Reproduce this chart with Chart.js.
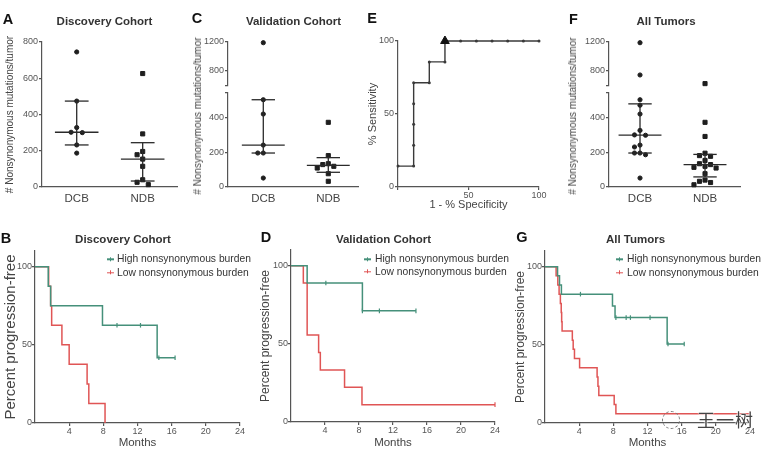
<!DOCTYPE html>
<html>
<head>
<meta charset="utf-8">
<title>Nonsynonymous mutation burden and clinical benefit</title>
<script src="https://cdn.jsdelivr.net/npm/chart.js@4.4.1/dist/chart.umd.min.js"></script>
<style>
html,body{margin:0;padding:0;background:#fff;}
#fig{position:relative;width:776px;height:455px;overflow:hidden;background:#fff;font-family:"Liberation Sans",Arial,Helvetica,sans-serif;}
#fig canvas{position:absolute;}
.tx{position:absolute;white-space:nowrap;line-height:1;transform:translate(-50%,-50%);}
.letter{font-weight:bold;font-size:14.5px;color:#111;}
.ptitle{font-weight:bold;font-size:11.5px;color:#333;}
.ytl{position:absolute;white-space:nowrap;line-height:1;font-size:10px;color:#444;transform:translate(-50%,-50%) rotate(-90deg);}
.leg{position:absolute;white-space:nowrap;font-size:10.3px;color:#333;line-height:1;transform:translateY(-50%);}
.mk{position:absolute;height:1.4px;width:7px;transform:translateY(-50%);}
.mk::after{content:"";position:absolute;left:3px;width:1.2px;height:4px;top:-1.3px;background:inherit;}
.wm{position:absolute;font-family:"Noto Sans CJK SC",sans-serif;font-size:18px;color:#444;line-height:1;transform:translateY(-50%);text-shadow:0 0 2px #fff,0 0 2px #fff,0 0 1px #fff;letter-spacing:1px;}
.wmlogo{position:absolute;width:16px;height:16px;border:1.5px dashed #777;border-radius:50%;}
</style>
</head>
<body>
<div id="fig">
  <canvas id="cA" width="190" height="215" style="left:0px;top:0px"></canvas>
  <canvas id="cC" width="175" height="215" style="left:190px;top:0px"></canvas>
  <canvas id="cE" width="190" height="215" style="left:362px;top:0px"></canvas>
  <canvas id="cF" width="190" height="215" style="left:565px;top:0px"></canvas>
  <canvas id="cB" width="255" height="227" style="left:0px;top:228px"></canvas>
  <canvas id="cD" width="255" height="227" style="left:255px;top:228px"></canvas>
  <canvas id="cG" width="266" height="227" style="left:510px;top:228px"></canvas>

  <div class="tx letter" style="left:8px;top:19px">A</div>
  <div class="tx letter" style="left:197px;top:18px">C</div>
  <div class="tx letter" style="left:372px;top:18px">E</div>
  <div class="tx letter" style="left:573.5px;top:18.5px">F</div>
  <div class="tx letter" style="left:6px;top:238px">B</div>
  <div class="tx letter" style="left:266px;top:237px">D</div>
  <div class="tx letter" style="left:522px;top:237px">G</div>

  <div class="tx ptitle" style="left:104.5px;top:22px">Discovery Cohort</div>
  <div class="tx ptitle" style="left:293.5px;top:22px">Validation Cohort</div>
  <div class="tx ptitle" style="left:666px;top:22px">All Tumors</div>
  <div class="tx ptitle" style="left:123px;top:240px">Discovery Cohort</div>
  <div class="tx ptitle" style="left:383.5px;top:240px">Validation Cohort</div>
  <div class="tx ptitle" style="left:635.5px;top:240px">All Tumors</div>

  <div class="ytl" style="left:198px;top:116px"># Nonsynonymous mutations/tumor</div>
  <div class="ytl" style="left:573px;top:116px"># Nonsynonymous mutations/tumor</div>

  <div class="mk" style="left:107px;top:259.3px;background:#45907a"></div>
  <div class="leg" style="left:117px;top:259.3px">High nonsynonymous burden</div>
  <div class="mk" style="left:107px;top:272.7px;background:#e05555"></div>
  <div class="leg" style="left:117px;top:272.7px">Low nonsynonymous burden</div>

  <div class="mk" style="left:364px;top:259.3px;background:#45907a"></div>
  <div class="leg" style="left:375px;top:259.3px">High nonsynonymous burden</div>
  <div class="mk" style="left:364px;top:271.7px;background:#e05555"></div>
  <div class="leg" style="left:375px;top:271.7px">Low nonsynonymous burden</div>

  <div class="mk" style="left:616px;top:259.3px;background:#45907a"></div>
  <div class="leg" style="left:627px;top:259.3px">High nonsynonymous burden</div>
  <div class="mk" style="left:616px;top:272.7px;background:#e05555"></div>
  <div class="leg" style="left:627px;top:272.7px">Low nonsynonymous burden</div>

  <div class="wmlogo" style="left:662px;top:411px"></div>
  <div class="wm" style="left:697px;top:419px">王一树</div>
</div>

<script>
// ================= DATA =================
const groupLabels = ['DCB', 'NDB'];

// Panel A – Discovery cohort, nonsynonymous mutations per tumor
const discoveryDCB = [745, 474, 328, 302, 300, 232, 187];
const discoveryNDB = [626, 293, 196, 178, 154, 114, 40, 26, 13];
// Panel C – Validation cohort
const validationDCB = [1190, 506, 423, 243, 197, 197, 52];
const validationNDB = [375, 182, 135, 130, 120, 110, 77, 33];
// Panel F – All tumors
const allDCB = [1190, 745, 506, 474, 423, 328, 302, 300, 243, 232, 197, 197, 187, 52];
const allNDB = [626, 375, 293, 196, 182, 178, 154, 135, 130, 120, 114, 110, 77, 40, 33, 26, 13];

const mutTicks = [0, 200, 400, 600, 800];
const mutTicksLow = [0, 200, 400];
const mutTicksHigh = [800, 1200];
const mutLowRange = [0, 545];      // lower segment of the broken axis
const mutHighRange = [593, 1200];  // upper segment of the broken axis

// Panel E – ROC curve (1 - specificity, sensitivity), %
const rocFPR = [0, 11.1, 11.1, 11.1, 11.1, 11.1, 22.2, 22.2, 33.3, 33.3, 44.4, 55.6, 66.7, 77.8, 88.9, 100];
const rocTPR = [14.3, 14.3, 28.6, 42.9, 57.1, 71.4, 71.4, 85.7, 85.7, 100, 100, 100, 100, 100, 100, 100];
const rocCutoffFPR = [33.3];
const rocCutoffTPR = [100];
const rocTicks = [0, 50, 100];

// Kaplan–Meier panels
const monthTicks = [4, 8, 12, 16, 20, 24];
const pfsTicks = [0, 50, 100];

// Panel B – Discovery
const discHighMonths = [0, 1.55, 1.83, 7.9, 14.3, 16.4];
const discHighPFS    = [100, 87.5, 75, 62.5, 41.7, 41.7];
const discHighCensored = [9.6, 12.35, 14.5, 16.4];
const discLowMonths = [0, 1.6, 1.83, 1.95, 3.15, 4.0, 6.1, 6.3, 8.2];
const discLowPFS    = [100, 87.5, 75, 62.5, 50, 37.5, 25, 12.5, 0];
const discLowCensored = [];
// Panel D – Validation
const valHighMonths = [0, 1.9, 8.4, 14.7];
const valHighPFS    = [100, 88.9, 71.1, 71.1];
const valHighCensored = [4.1, 8.4, 10.4, 14.7];
const valLowMonths = [0, 1.45, 1.9, 3.25, 3.45, 6.3, 8.35, 24];
const valLowPFS    = [100, 88.9, 55.6, 44.4, 33.3, 22.2, 11.1, 11.1];
const valLowCensored = [24];
// Panel G – All tumors
const allHighMonths = [0, 1.47, 1.7, 1.92, 7.9, 8.2, 14.3, 16.3];
const allHighPFS    = [100, 94.1, 88.2, 82.4, 74.9, 67.4, 50.5, 50.5];
const allHighCensored = [4.15, 8.3, 9.5, 10.0, 12.3, 14.4, 16.3];
const allLowMonths = [0, 1.3, 1.5, 1.65, 1.8, 1.9, 1.95, 2.0, 3.2, 3.3, 3.45, 4.05, 6.1, 6.2, 6.3, 8.1, 8.3, 24];
const allLowPFS    = [100, 94.1, 88.2, 82.4, 76.5, 70.6, 64.7, 58.8, 52.9, 47.1, 41.2, 35.3, 29.4, 23.5, 17.6, 11.8, 5.9, 5.9];
const allLowCensored = [24];

// ================= STYLE / HELPERS =================
const AX = '#555';
const GREEN = '#45907a';
const RED = '#e05555';
const INK = '#1e1e1e';
Chart.defaults.font.family = '"Liberation Sans", Arial, Helvetica, sans-serif';
Chart.defaults.color = '#555';
Chart.defaults.animation = false;
Chart.defaults.responsive = false;
Chart.defaults.events = [];
Chart.defaults.plugins.legend.display = false;
Chart.defaults.plugins.tooltip.enabled = false;
Chart.defaults.scale.ticks.autoSkip = false;

const fixW = w => s => { s.width = w; };
const fixH = h => s => { s.height = h; };
const setTicks = vals => s => { s.ticks = vals.map(v => ({ value: v })); };

function quartiles(arr) { // percentile at rank (n+1)p
  const s = [...arr].sort((a, b) => a - b), n = s.length;
  const q = p => {
    const r = (n + 1) * p, lo = Math.floor(r), f = r - lo;
    if (lo < 1) return s[0];
    if (lo >= n) return s[n - 1];
    return s[lo - 1] + f * (s[lo] - s[lo - 1]);
  };
  return [q(0.25), q(0.5), q(0.75)];
}

function swarm(vals, center, thr, step) {
  const order = vals.map((v, i) => i).sort((a, b) => vals[b] - vals[a]);
  const placed = [], out = new Array(vals.length);
  const seq = [0, -1, 1, -2, 2, -3, 3];
  for (const i of order) {
    const v = vals[i];
    const used = placed.filter(p => Math.abs(p.v - v) < thr).map(p => p.k);
    const k = seq.find(k => !used.includes(k));
    placed.push({ v, k });
    out[i] = { x: center + k * step, y: v };
  }
  return out;
}

function stepValue(times, vals, t) {
  let v = vals[0];
  for (let i = 0; i < times.length; i++) if (times[i] <= t) v = vals[i];
  return v;
}

const axisBorder = { color: AX, width: 1.2 };
const tickGrid = { drawOnChartArea: false, color: AX, lineWidth: 1.2, tickLength: 3 };
const tickFont = { size: 9 };

// ================= DOT PLOTS (A, C, F) =================
function mutDatasets(groups, broken) {
  const MED = 0.33, CAP = 0.18;
  const styles = ['circle', 'rect'];
  const ds = [];
  groups.forEach((vals, g) => {
    const c = g + 1;
    const [q1, med, q3] = quartiles(vals);
    const seg = pts => ({ type: 'line', data: pts, yAxisID: 'y', borderColor: '#2a2a2a', borderWidth: 1.3,
                          pointRadius: 0, fill: false, clip: false });
    ds.push(seg([{ x: c - MED, y: med }, { x: c + MED, y: med }]));
    ds.push(seg([{ x: c, y: q1 }, { x: c, y: q3 }]));
    ds.push(seg([{ x: c - CAP, y: q1 }, { x: c + CAP, y: q1 }]));
    ds.push(seg([{ x: c - CAP, y: q3 }, { x: c + CAP, y: q3 }]));
    const pts = swarm(vals, c, 30, 0.085);
    const pointOpts = { type: 'scatter', pointStyle: styles[g], pointRadius: g ? 2.9 : 2.1,
                        pointBackgroundColor: INK, pointBorderColor: INK, pointBorderWidth: 1, clip: false };
    if (broken) {
      ds.push(Object.assign({ data: pts.filter(p => p.y <= mutLowRange[1]), yAxisID: 'y' }, pointOpts));
      ds.push(Object.assign({ data: pts.filter(p => p.y > mutLowRange[1]), yAxisID: 'yTop' }, pointOpts));
    } else {
      ds.push(Object.assign({ data: pts, yAxisID: 'y' }, pointOpts));
    }
  });
  return ds;
}

function catX(min, max, h) {
  return {
    type: 'linear', position: 'bottom', min, max,
    afterBuildTicks: setTicks([1, 2]), afterFit: fixH(h),
    border: axisBorder, grid: { display: false, drawTicks: false },
    ticks: { callback: (v, i) => groupLabels[i], font: { size: 11.5 }, color: '#444', padding: 5 }
  };
}

// Panel A
new Chart('cA', {
  type: 'scatter',
  data: { datasets: mutDatasets([discoveryDCB, discoveryNDB], false) },
  options: {
    layout: { padding: { top: 42, right: 13, left: 0, bottom: 0 } },
    scales: {
      x: catX(0.474, 2.52, 28),
      y: {
        type: 'linear', min: 0, max: 800, afterBuildTicks: setTicks(mutTicks), afterFit: fixW(42),
        border: axisBorder, grid: tickGrid, ticks: { font: tickFont, padding: 1 },
        title: { display: true, text: '# Nonsynonymous mutations/tumor', font: { size: 10 }, color: '#444', padding: { top: 4, bottom: 0 } }
      }
    }
  }
});

function brokenScales(xmin, xmax, yw) {
  return {
    x: catX(xmin, xmax, 28),
    y: {
      type: 'linear', position: 'left', stack: 'mut', stackWeight: 94, weight: 0,
      min: mutLowRange[0], max: mutLowRange[1],
      afterBuildTicks: setTicks([...mutTicksLow, mutLowRange[1]]), afterFit: fixW(yw),
      border: axisBorder, grid: tickGrid,
      ticks: { font: tickFont, padding: 1, autoSkip: false, callback: v => mutTicksLow.includes(v) ? String(v) : '' }
    },
    yGap: {
      type: 'linear', position: 'left', stack: 'mut', stackWeight: 7, weight: 1, min: 0, max: 1,
      afterFit: fixW(yw), border: { display: false }, grid: { display: false, drawTicks: false },
      ticks: { display: false }
    },
    yTop: {
      type: 'linear', position: 'left', stack: 'mut', stackWeight: 44, weight: 2,
      min: mutHighRange[0], max: mutHighRange[1],
      afterBuildTicks: setTicks([mutHighRange[0], ...mutTicksHigh]), afterFit: fixW(yw),
      border: axisBorder, grid: tickGrid,
      ticks: { font: tickFont, padding: 1, autoSkip: false, callback: v => mutTicksHigh.includes(v) ? String(v) : '' }
    }
  };
}

// Panel C
new Chart('cC', {
  type: 'scatter',
  data: { datasets: mutDatasets([validationDCB, validationNDB], true) },
  options: {
    layout: { padding: { top: 42, right: 7, left: 0, bottom: 0 } },
    scales: brokenScales(0.457, 2.457, 38)
  }
});

// Panel F
new Chart('cF', {
  type: 'scatter',
  data: { datasets: mutDatasets([allDCB, allNDB], true) },
  options: {
    layout: { padding: { top: 42, right: 15, left: 0, bottom: 0 } },
    scales: brokenScales(0.523, 2.538, 44)
  }
});

// ================= ROC (E) =================
new Chart('cE', {
  type: 'scatter',
  data: {
    datasets: [
      { type: 'scatter', data: rocCutoffFPR.map((x, i) => ({ x, y: rocCutoffTPR[i] })), pointStyle: 'triangle',
        pointRadius: 5, pointBackgroundColor: '#111', pointBorderColor: '#111', pointBorderWidth: 1, clip: false },
      { type: 'line', data: rocFPR.map((x, i) => ({ x, y: rocTPR[i] })), borderColor: '#3a3a3a', borderWidth: 1.4,
        pointRadius: 1.5, pointBackgroundColor: '#3a3a3a', pointBorderWidth: 0, fill: false, tension: 0, clip: false }
    ]
  },
  options: {
    layout: { padding: { top: 41, right: 13, left: 0, bottom: 0 } },
    scales: {
      x: {
        type: 'linear', min: 0, max: 100, afterBuildTicks: setTicks(rocTicks), afterFit: fixH(28),
        border: axisBorder, grid: tickGrid,
        ticks: { font: tickFont, padding: 0, callback: v => v === 0 ? '' : String(v) },
        title: { display: true, text: '1 - % Specificity', font: { size: 11 }, color: '#444', padding: { top: 0, bottom: 3.4 } }
      },
      y: {
        type: 'linear', min: 0, max: 100, afterBuildTicks: setTicks(rocTicks), afterFit: fixW(36),
        border: axisBorder, grid: tickGrid, ticks: { font: tickFont, padding: 1 },
        title: { display: true, text: '% Sensitivity', font: { size: 11 }, color: '#444', padding: { top: 4.4, bottom: 0 } }
      }
    }
  }
});

// ================= KAPLAN–MEIER (B, D, G) =================
function kmDatasets(curves) {
  const ds = [];
  curves.forEach(([T, S, C, color]) => {
    ds.push({ type: 'line', data: T.map((t, i) => ({ x: t, y: S[i] })), stepped: true, borderColor: color,
              borderWidth: 1.5, pointRadius: 0, fill: false, tension: 0, clip: false });
    ds.push({ type: 'scatter', data: C.map(t => ({ x: t, y: stepValue(T, S, t) })), pointStyle: 'line',
              pointRotation: 90, pointRadius: 2.3, pointBorderColor: color, pointBackgroundColor: color,
              pointBorderWidth: 1.2, clip: false });
  });
  return ds;
}

function kmChart(id, curves, o) {
  return new Chart(id, {
    type: 'scatter',
    data: { datasets: kmDatasets(curves) },
    options: {
      layout: { padding: { top: o.top, right: o.right, left: 0, bottom: 0 } },
      scales: {
        x: {
          type: 'linear', min: 0, max: 24, afterBuildTicks: setTicks(monthTicks), afterFit: fixH(o.xh),
          border: axisBorder, grid: tickGrid, ticks: { font: tickFont, padding: 0 },
          title: { display: true, text: 'Months', font: { size: 11.5 }, color: '#444', padding: { top: 0, bottom: 5 } }
        },
        y: {
          type: 'linear', min: 0, max: 110, afterBuildTicks: setTicks(pfsTicks), afterFit: fixW(o.yw),
          border: axisBorder, grid: tickGrid, ticks: { font: tickFont, padding: 0 },
          title: { display: true, text: 'Percent progression-free', font: { size: o.yts }, color: '#444',
                   padding: { top: o.ytp, bottom: 0 } }
        }
      }
    }
  });
}

kmChart('cB', [
  [discHighMonths, discHighPFS, discHighCensored, GREEN],
  [discLowMonths, discLowPFS, discLowCensored, RED]
], { top: 23, right: 15, xh: 32, yw: 35, yts: 15, ytp: 2 });

kmChart('cD', [
  [valHighMonths, valHighPFS, valHighCensored, GREEN],
  [valLowMonths, valLowPFS, valLowCensored, RED]
], { top: 22, right: 15, xh: 33, yw: 36, yts: 12, ytp: 3.8 });

kmChart('cG', [
  [allHighMonths, allHighPFS, allHighCensored, GREEN],
  [allLowMonths, allLowPFS, allLowCensored, RED]
], { top: 23, right: 26, xh: 32, yw: 35, yts: 12, ytp: 3.8 });
</script>
</body>
</html>
